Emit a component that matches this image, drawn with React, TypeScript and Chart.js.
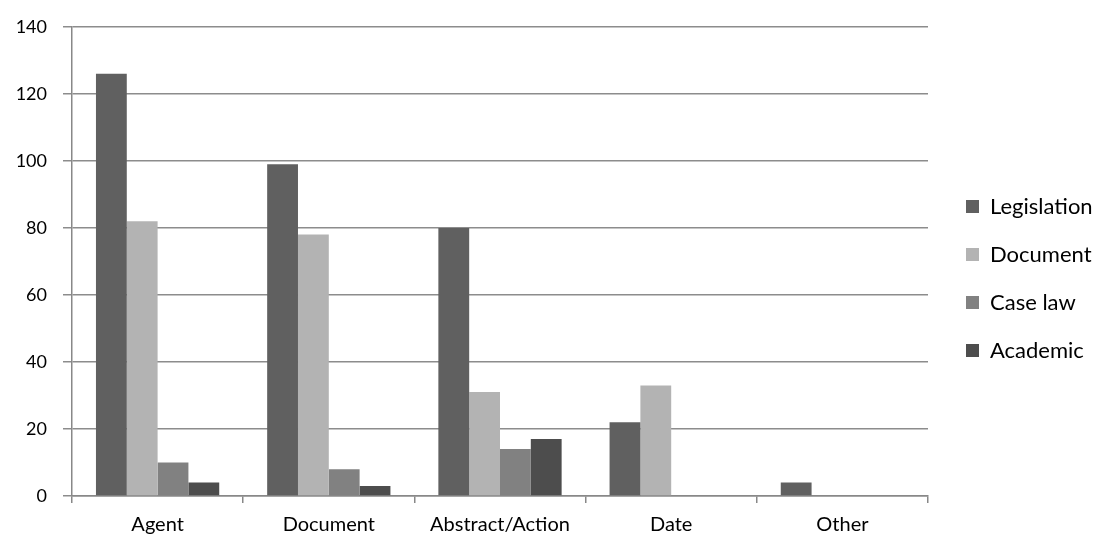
import React, { useEffect, useRef } from "react";
import { Chart, registerables } from "chart.js";

Chart.register(...registerables);

const categories = ["Agent", "Document", "Abstract/Action", "Date", "Other"];
const legislation = [126, 99, 80, 22, 4];
const documentVals = [82, 78, 31, 33, 0];
const caseLaw = [10, 8, 14, 0, 0];
const academic = [4, 3, 17, 0, 0];
const yTicks = [0, 20, 40, 60, 80, 100, 120, 140];

const legendWidthPlugin = {
  id: "legendWidth",
  afterInit(chart: any) {
    const legend = chart.legend;
    if (!legend) return;
    const origFit = legend.fit.bind(legend);
    legend.fit = function () {
      origFit();
      this.width = 176;
    };
    const origDraw = legend.draw.bind(legend);
    legend.draw = function () {
      const c = this.ctx;
      c.save();
      c.translate(12, 2);
      origDraw();
      c.restore();
    };
  },
};

export default function App() {
  const ref = useRef<HTMLCanvasElement>(null);
  useEffect(() => {
    document.body.style.margin = "0";
    const ctx = ref.current!;
    const font = "Lato, 'Noto Sans', sans-serif";
    const chart = new Chart(ctx, {
      type: "bar",
      data: {
        labels: categories,
        datasets: [
          { label: "Legislation", data: legislation, backgroundColor: "#606060", borderWidth: 0 },
          { label: "Document", data: documentVals, backgroundColor: "#b3b3b3", borderWidth: 0 },
          { label: "Case law", data: caseLaw, backgroundColor: "#818181", borderWidth: 0 },
          { label: "Academic", data: academic, backgroundColor: "#4d4d4d", borderWidth: 0 },
        ],
      },
      plugins: [legendWidthPlugin],
      options: {
        animation: false,
        responsive: false,
        maintainAspectRatio: false,
        layout: { padding: { top: 15, right: 0, left: 0, bottom: 0 } },
        datasets: { bar: { categoryPercentage: 0.72, barPercentage: 1 } },
        plugins: {
          tooltip: { enabled: false },
          legend: {
            position: "right",
            align: "center",
            labels: {
              boxWidth: 13,
              boxHeight: 13,
              padding: 26,
              color: "#000",
              font: { family: font, size: 22 },
            },
          },
        },
        scales: {
          x: {
            grid: {
              display: true,
              drawOnChartArea: false,
              drawTicks: true,
              tickLength: 7,
              color: "#888",
              lineWidth: 1.5,
              offset: true,
            },
            border: { color: "#888", width: 1.5 },
            ticks: { color: "#000", font: { family: font, size: 20 }, padding: 10 },
            afterFit: (s: any) => { s.height = 42; },
          },
          y: {
            min: 0,
            max: 140,
            afterBuildTicks: (s: any) => { s.ticks = yTicks.map((v) => ({ value: v })); },
            grid: { color: "#8c8c8c", lineWidth: 1.5, tickLength: 9 },
            border: { color: "#888", width: 1.5 },
            ticks: { color: "#000", font: { family: font, size: 18 }, padding: 16 },
            afterFit: (s: any) => { s.width = 72; },
          },
        },
      },
    });
    return () => chart.destroy();
  }, []);
  return (
    <div style={{ width: 1104, height: 538 }}>
      <canvas ref={ref} width={1104} height={538} style={{ width: 1104, height: 538, display: "block" }} />
    </div>
  );
}
